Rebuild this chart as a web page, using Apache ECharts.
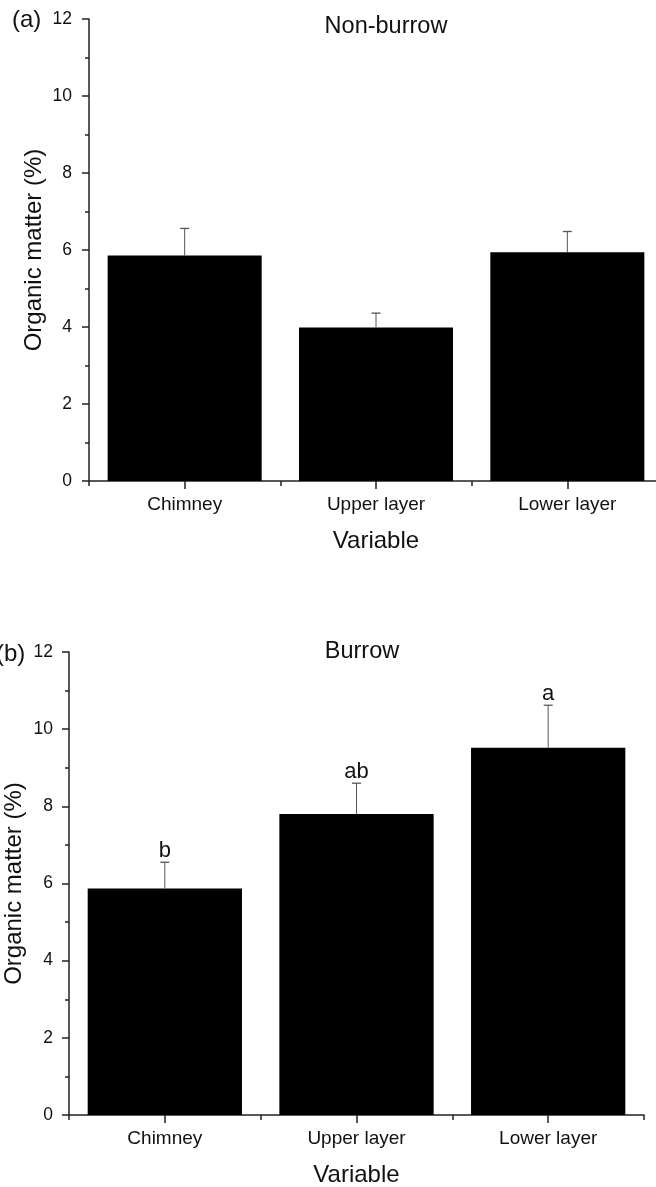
<!DOCTYPE html>
<html>
<head>
<meta charset="utf-8">
<title>Organic matter</title>
<script src="https://cdn.jsdelivr.net/npm/echarts@6/dist/echarts.min.js"></script>
<style>
    * { margin: 0; padding: 0; }
    html, body { background: #fff; }
</style>
</head>
<body>
<div id="main" style="width:656px;height:1187px;"></div>
<script>
// categories and values
var categories = ['Chimney', 'Upper layer', 'Lower layer'];
var yTicks = [0, 2, 4, 6, 8, 10, 12];

// (a) Non-burrow
var nonBurrowMean = [5.86, 3.99, 5.94];
var nonBurrowUpper = [6.56, 4.36, 6.48];   // mean + error

// (b) Burrow
var burrowMean = [5.87, 7.8, 9.52];
var burrowUpper = [6.55, 8.6, 10.62];
var burrowLetters = ['b', 'ab', 'a'];

var font = 'Liberation Sans, Arial, sans-serif';
var ink = '#111';

function errData(mean, upper) {
    var out = [];
    for (var i = 0; i < mean.length; i++) {
        out.push([i, mean[i], upper[i]]);
    }
    return out;
}

// error bar (upper half only) + optional letter above it
function makeErr(letters) {
    return function (params, api) {
        var base = api.coord([api.value(0), api.value(1)]);
        var top = api.coord([api.value(0), api.value(2)]);
        var children = [
            { type: 'line', shape: { x1: base[0], y1: base[1], x2: top[0], y2: top[1] },
              style: { stroke: '#555', lineWidth: 1 } },
            { type: 'line', shape: { x1: top[0] - 4.5, y1: top[1], x2: top[0] + 4.5, y2: top[1] },
              style: { stroke: '#555', lineWidth: 1.3 } }
        ];
        if (letters) {
            children.push({ type: 'text', x: top[0], y: top[1],
                style: { text: letters[params.dataIndex], font: '22px ' + font, fill: ink,
                         align: 'center', verticalAlign: 'bottom' } });
        }
        return { type: 'group', children: children };
    };
}

function yAxisFor(grid, margin) {
    return {
        type: 'value', gridIndex: grid, min: 0, max: 12, interval: 2,
        name: 'Organic matter (%)', nameLocation: 'middle', nameGap: 43,
        nameMoveOverlap: false,
        nameTextStyle: { fontFamily: font, fontSize: 24, color: ink },
        axisLine: { show: true, lineStyle: { color: '#222', width: 1.5 } },
        axisTick: { show: true, length: 7, lineStyle: { color: '#222', width: 1.5 } },
        minorTick: { show: true, splitNumber: 2, length: 4, lineStyle: { color: '#222', width: 1.5 } },
        splitLine: { show: false },
        axisLabel: { fontFamily: font, fontSize: 17.5, color: ink, margin: margin,
            formatter: function (v) { return yTicks.indexOf(v) >= 0 ? String(v) : ''; } }
    };
}

function xAxesFor(grid) {
    return [{
        type: 'category', gridIndex: grid, data: categories,
        name: 'Variable', nameLocation: 'middle', nameGap: 48,
        nameTextStyle: { fontFamily: font, fontSize: 24, color: ink },
        axisLine: { show: true, onZero: false, lineStyle: { color: '#222', width: 1.5 } },
        axisTick: { show: true, alignWithLabel: true, length: 8, lineStyle: { color: '#222', width: 1.5 } },
        axisLabel: { fontFamily: font, fontSize: 19, color: ink, margin: 14 }
    }, {
        // short ticks on the category boundaries
        type: 'category', gridIndex: grid, data: categories, position: 'bottom',
        axisLine: { show: false },
        axisTick: { show: true, alignWithLabel: false, length: 5, lineStyle: { color: '#222', width: 1.5 } },
        axisLabel: { show: false }
    }];
}

var chart = echarts.init(document.getElementById('main'));
chart.setOption({
    backgroundColor: '#fff',
    animation: false,
    title: [
        { text: 'Non-burrow', left: 381, top: 10, textAlign: 'center',
          textStyle: { fontFamily: font, fontSize: 23.5, fontWeight: 'normal', color: ink } },
        { text: 'Burrow', left: 357, top: 635, textAlign: 'center',
          textStyle: { fontFamily: font, fontSize: 23.5, fontWeight: 'normal', color: ink } }
    ],
    graphic: [
        { type: 'text', left: 12, top: 8, style: { text: '(a)', font: '24px ' + font, fill: ink } },
        { type: 'text', left: -4, top: 642, style: { text: '(b)', font: '24px ' + font, fill: ink } }
    ],
    grid: [
        { left: 89, right: -7, top: 19, height: 462, outerBoundsMode: 'none', containLabel: false },
        { left: 69, right: 12, top: 652, height: 463, outerBoundsMode: 'none', containLabel: false }
    ],
    xAxis: xAxesFor(0).concat(xAxesFor(1)),
    yAxis: [yAxisFor(0, 17), yAxisFor(1, 16)],
    series: [
        { type: 'bar', xAxisIndex: 0, yAxisIndex: 0, data: nonBurrowMean,
          barCategoryGap: '19.5%', itemStyle: { color: '#000' } },
        { type: 'custom', xAxisIndex: 0, yAxisIndex: 0, renderItem: makeErr(null),
          data: errData(nonBurrowMean, nonBurrowUpper), z: 3 },
        { type: 'bar', xAxisIndex: 2, yAxisIndex: 1, data: burrowMean,
          barCategoryGap: '19.5%', itemStyle: { color: '#000' } },
        { type: 'custom', xAxisIndex: 2, yAxisIndex: 1, renderItem: makeErr(burrowLetters),
          data: errData(burrowMean, burrowUpper), z: 3 }
    ]
});
</script>
</body>
</html>
